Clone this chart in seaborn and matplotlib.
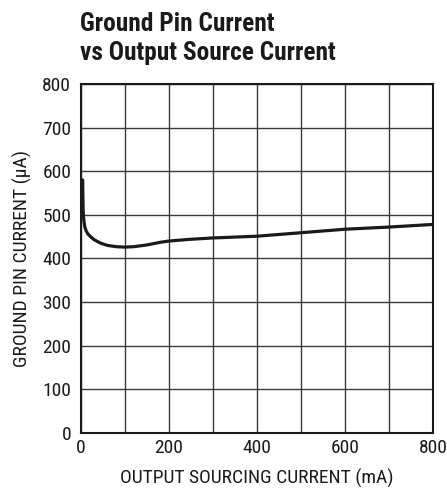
import matplotlib
matplotlib.use("Agg")
import matplotlib.pyplot as plt
import seaborn as sns
import pandas as pd

# Data
output_current_ma = [4, 4.5, 5, 6, 7, 9, 12, 16, 23, 30, 45, 60, 80, 100, 120, 150, 180, 200, 250, 300, 400, 500, 600, 700, 800]
ground_current_ua = [580, 540, 512, 495, 485, 472, 463, 456, 449, 443, 435, 430, 427, 426, 427, 431, 437, 440, 444, 447, 451, 459, 467, 472, 478]

x_ticks = [0, 200, 400, 600, 800]
y_ticks = [0, 100, 200, 300, 400, 500, 600, 700, 800]

title_text = "Ground Pin Current\nvs Output Source Current"
x_label = "OUTPUT SOURCING CURRENT (mA)"
y_label = "GROUND PIN CURRENT (\u00b5A)"

sns.set_theme(style="white")
body_fam = ["Roboto Condensed", "Archivo Narrow", "DejaVu Sans"]
title_fam = ["Roboto Condensed", "Barlow Semi Condensed", "DejaVu Sans"]
plt.rcParams["font.family"] = body_fam

df = pd.DataFrame({"x": output_current_ma, "y": ground_current_ua})

fig = plt.figure(figsize=(4.47, 4.91), dpi=100)
ax = fig.add_axes([0.181, 0.1181, 0.788, 0.711])

sns.lineplot(data=df, x="x", y="y", ax=ax, color="#1a1a1a", linewidth=2.3, sort=False)

ax.set_xlim(0, 800)
ax.set_ylim(0, 800)
ax.set_xticks(x_ticks)
ax.set_yticks(y_ticks)
ax.set_xticks(range(0, 801, 100), minor=True)
ax.grid(True, which="both", color="#3a3a3a", linewidth=1.0)
ax.set_axisbelow(True)
ax.tick_params(axis="both", which="both", length=0, labelsize=14, colors="#1a1a1a")
ax.tick_params(axis="y", pad=7)
ax.tick_params(axis="x", pad=4)
for s in ax.spines.values():
    s.set_color("#1a1a1a")
    s.set_linewidth(1.5)

ax.set_xlabel(x_label, fontsize=14, color="#1a1a1a", labelpad=9)
ax.set_ylabel(y_label, fontsize=14, color="#1a1a1a", labelpad=7)

fig.text(0.179, 0.868, title_text, fontsize=18.3, fontweight="bold", color="#1a1a1a",
         ha="left", va="bottom", linespacing=1.25, family=title_fam)

fig.savefig("out.png", dpi=100)
